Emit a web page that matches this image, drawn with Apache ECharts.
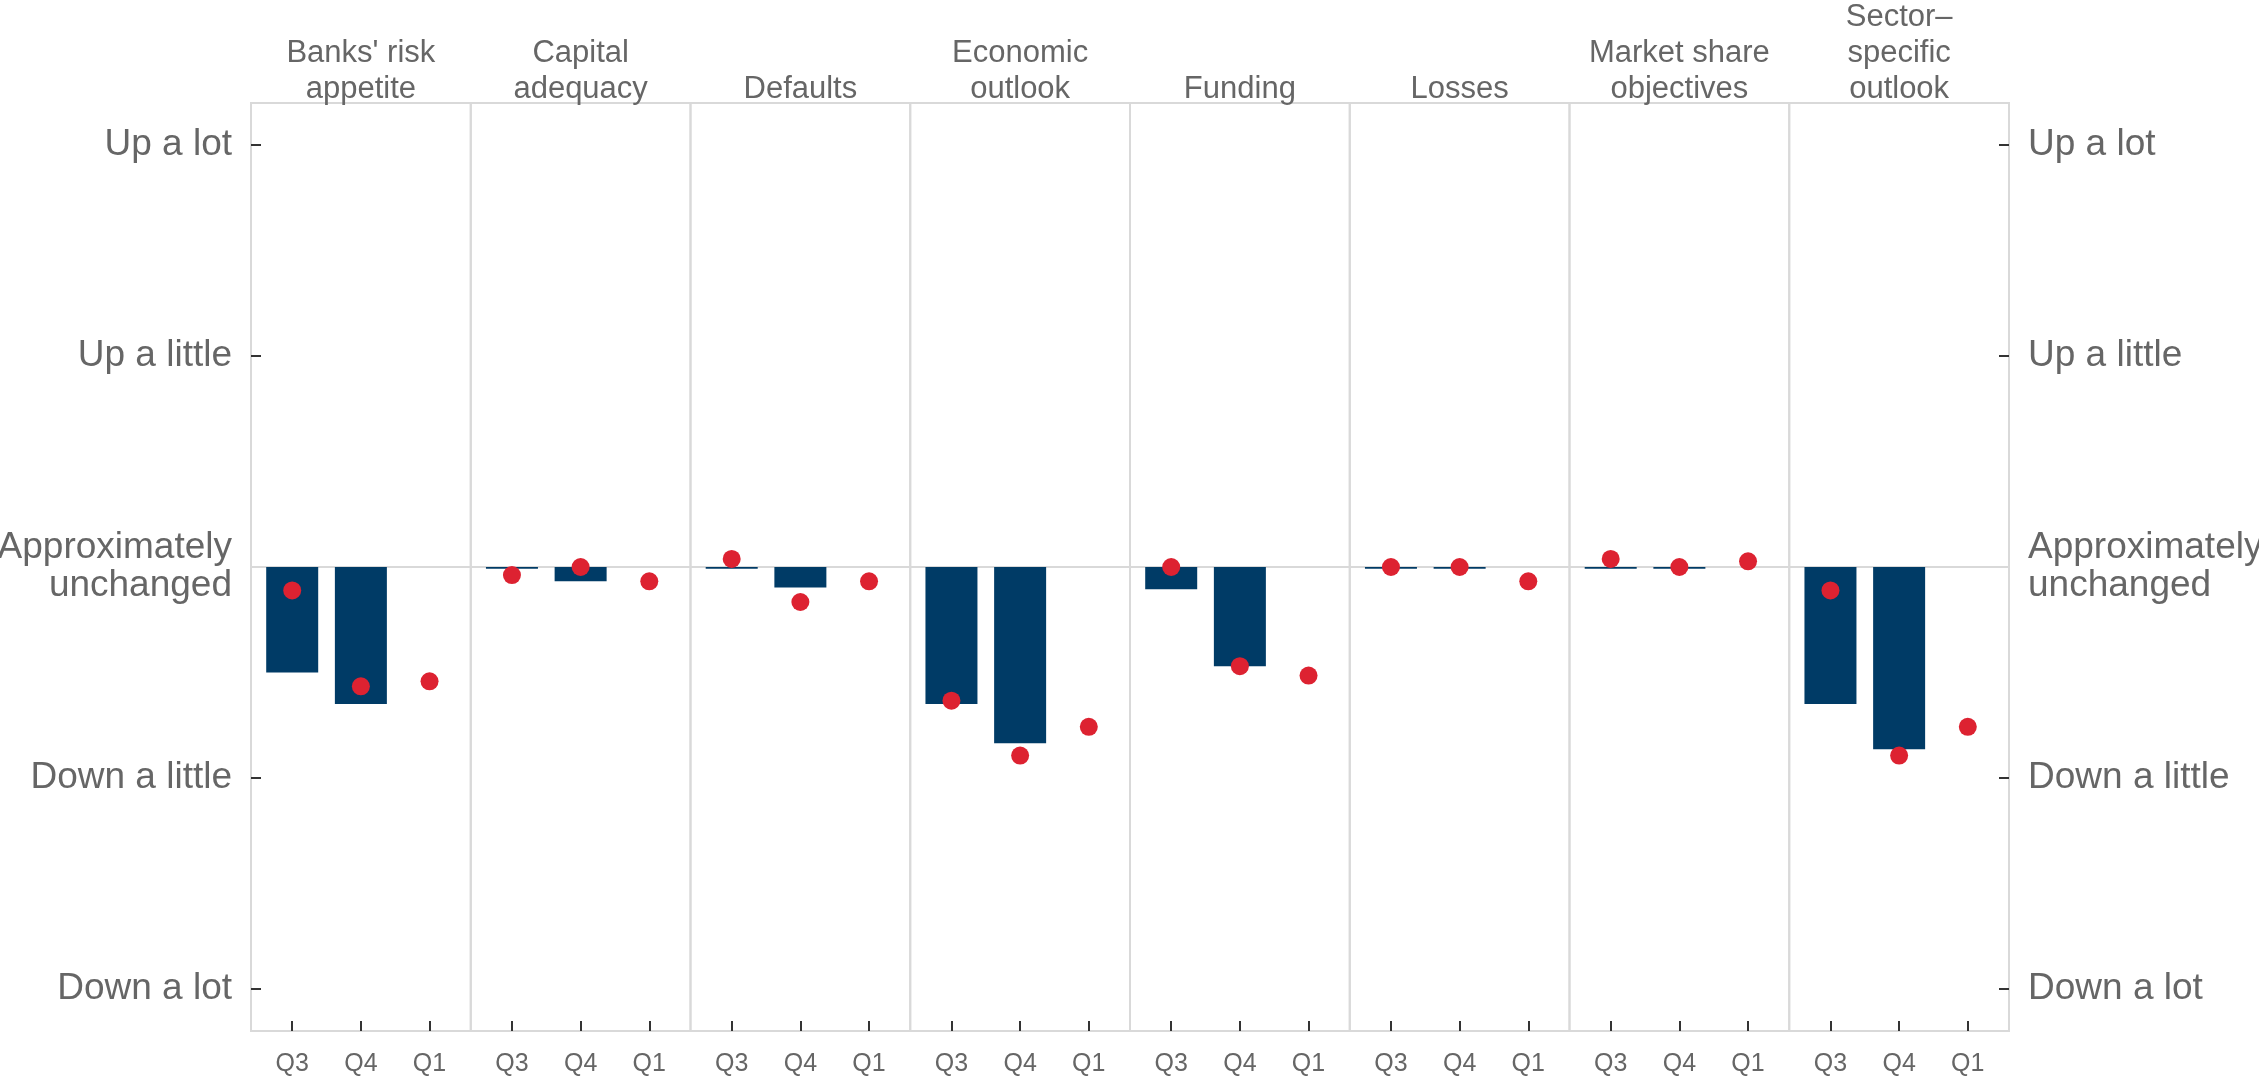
<!DOCTYPE html>
<html>
<head>
<meta charset="utf-8">
<script src="https://cdn.jsdelivr.net/npm/echarts@6/dist/echarts.min.js"></script>
<style>
  html, body { margin: 0; padding: 0; background: #fff; }
  #chart { width: 2259px; height: 1080px; }
</style>
</head>
<body>
<div id="chart"></div>
<script>
// panel titles
const categories = [
  "Banks' risk\nappetite",
  "Capital\nadequacy",
  "Defaults",
  "Economic\noutlook",
  "Funding",
  "Losses",
  "Market share\nobjectives",
  "Sector–\nspecific\noutlook"
];
const quarters = ["Q3", "Q4", "Q1"];
const levelValues = [-2, -1, 0, 1, 2];
const levelLabels = ["Down a lot", "Down a little", "Approximately\nunchanged", "Up a little", "Up a lot"];

// bars: Q3, Q4 (no bar for Q1)
const barValues = [
  [-0.5, -0.65, null],
  [-0.008, -0.068, null],
  [-0.008, -0.097, null],
  [-0.65, -0.836, null],
  [-0.106, -0.47, null],
  [-0.008, -0.008, null],
  [-0.008, -0.008, null],
  [-0.65, -0.864, null]
];
// red dots: Q3, Q4, Q1
const dotValues = [
  [-0.111, -0.566, -0.542],
  [-0.038, 0, -0.068],
  [0.038, -0.166, -0.068],
  [-0.634, -0.894, -0.758],
  [0, -0.47, -0.515],
  [0, 0, -0.068],
  [0.038, 0, 0.027],
  [-0.111, -0.894, -0.758]
];

let myChart = echarts.init(document.getElementById("chart"));

const gridLeft = 251;
const panelW = 219.75;
const gridTop = 103;
const gridBottom = 1031;
const textColor = "#666";
const font = "Liberation Sans, Arial, sans-serif";

let grids = [], xAxes = [], yAxes = [], series = [], titles = [];

categories.forEach(function (cat, i) {
  grids.push({
    left: gridLeft + i * panelW,
    top: gridTop,
    width: panelW,
    height: gridBottom - gridTop,
    outerBoundsMode: "none",
    show: true,
    borderColor: "#d9d9d9",
    borderWidth: 2
  });
  xAxes.push({
    gridIndex: i,
    type: "value",
    min: -0.6,
    max: 2.6,
    position: "bottom",
    axisLine: { show: false, onZero: false },
    splitLine: { show: false },
    axisTick: {
      show: true,
      inside: true,
      length: 10,
      customValues: [0, 1, 2],
      lineStyle: { color: "#333", width: 2 }
    },
    axisLabel: {
      customValues: [0, 1, 2],
      formatter: function (v) { return quarters[Math.round(v)] || ""; },
      color: textColor,
      fontFamily: font,
      fontSize: 25,
      margin: 21
    }
  });
  let outer = i === 0 || i === categories.length - 1;
  yAxes.push({
    gridIndex: i,
    type: "value",
    min: -2.2,
    max: 2.2,
    position: i === categories.length - 1 ? "right" : "left",
    axisLine: { show: false, onZero: false },
    splitLine: { show: false },
    axisTick: {
      show: outer,
      inside: true,
      length: 10,
      customValues: levelValues,
      lineStyle: { color: "#333", width: 2 }
    },
    axisLabel: {
      show: outer,
      customValues: levelValues,
      formatter: function (v) {
        let k = levelValues.indexOf(Math.round(v));
        return k < 0 ? "" : levelLabels[k];
      },
      color: textColor,
      fontFamily: font,
      fontSize: 37,
      lineHeight: 38,
      padding: [7, 0, 0, 0],
      margin: 19
    }
  });
  series.push({
    type: "bar",
    xAxisIndex: i,
    yAxisIndex: i,
    barWidth: 52,
    itemStyle: { color: "#003b66" },
    data: barValues[i].map(function (v, k) { return [k, v]; }),
    markLine: {
      silent: true,
      z: 1,
      symbol: "none",
      label: { show: false },
      lineStyle: { color: "#d9d9d9", width: 2, type: "solid" },
      data: [{ yAxis: 0 }]
    },
    z: 2
  });
  series.push({
    type: "scatter",
    xAxisIndex: i,
    yAxisIndex: i,
    symbolSize: 18,
    itemStyle: { color: "#dd2231", opacity: 1 },
    data: dotValues[i].map(function (v, k) { return [k, v]; }),
    z: 3
  });
  titles.push({
    text: cat,
    left: gridLeft + (i + 0.5) * panelW,
    top: 107,
    textAlign: "center",
    textVerticalAlign: "bottom",
    padding: 0,
    textStyle: {
      color: textColor,
      fontFamily: font,
      fontSize: 31,
      fontWeight: "normal",
      lineHeight: 36
    }
  });
});

let option = {
  backgroundColor: "#fff",
  animation: false,
  title: titles,
  grid: grids,
  xAxis: xAxes,
  yAxis: yAxes,
  series: series
};
myChart.setOption(option);
</script>
</body>
</html>
